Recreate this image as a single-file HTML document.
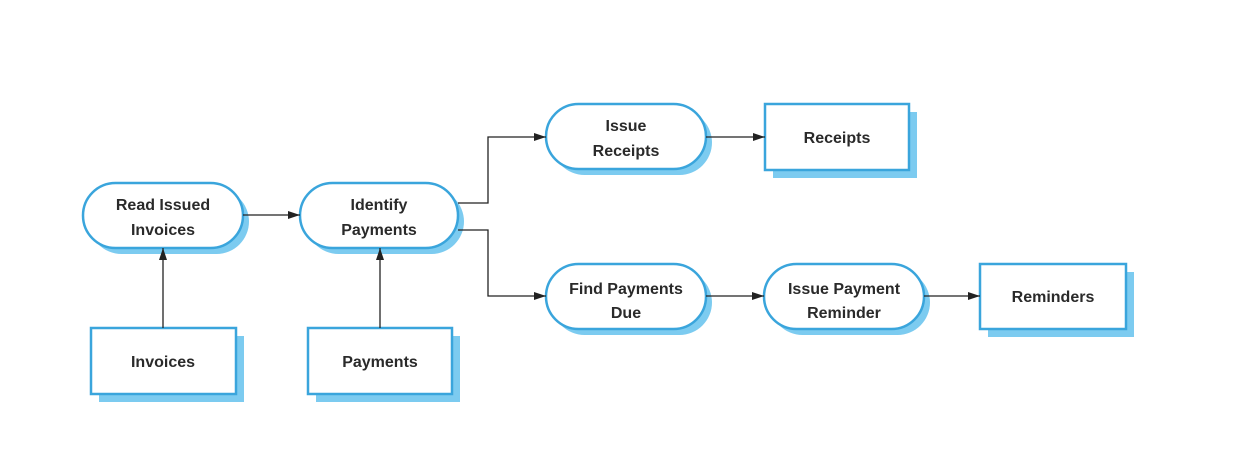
<!DOCTYPE html>
<html><head><meta charset="utf-8"><style>
body{margin:0;background:#fff;}
svg text{font-family:"Liberation Sans",sans-serif;font-size:16px;font-weight:bold;fill:#2a2a2a;text-anchor:middle;}
</style></head><body>
<svg width="1249" height="471" viewBox="0 0 1249 471" xmlns="http://www.w3.org/2000/svg">
<defs><marker id="a" markerWidth="12" markerHeight="8" refX="12" refY="4" orient="auto" markerUnits="userSpaceOnUse"><path d="M0,0 L12,4 L0,8 z" fill="#222"/></marker></defs>
<g fill="#7ccbf0">
<rect x="89" y="189" width="160" height="65" rx="32.5"/>
<rect x="306" y="189" width="158" height="65" rx="32.5"/>
<rect x="552" y="110" width="160" height="65" rx="32.5"/>
<rect x="552" y="270" width="160" height="65" rx="32.5"/>
<rect x="770" y="270" width="160" height="65" rx="32.5"/>
<rect x="99" y="336" width="145" height="66"/>
<rect x="316" y="336" width="144" height="66"/>
<rect x="773" y="112" width="144" height="66"/>
<rect x="988" y="272" width="146" height="65"/>
</g>
<g fill="#fff" stroke="#3aa5dc" stroke-width="2.5">
<rect x="83" y="183" width="160" height="65" rx="32.5"/>
<rect x="300" y="183" width="158" height="65" rx="32.5"/>
<rect x="546" y="104" width="160" height="65" rx="32.5"/>
<rect x="546" y="264" width="160" height="65" rx="32.5"/>
<rect x="764" y="264" width="160" height="65" rx="32.5"/>
<rect x="91" y="328" width="145" height="66"/>
<rect x="308" y="328" width="144" height="66"/>
<rect x="765" y="104" width="144" height="66"/>
<rect x="980" y="264" width="146" height="65"/>
</g>
<g stroke="#222" stroke-width="1.3" fill="none" marker-end="url(#a)">
<line x1="243" y1="215" x2="300" y2="215"/>
<polyline points="458,203 488,203 488,137 546,137"/>
<polyline points="458,230 488,230 488,296 546,296"/>
<line x1="706" y1="137" x2="765" y2="137"/>
<line x1="706" y1="296" x2="764" y2="296"/>
<line x1="924" y1="296" x2="980" y2="296"/>
<line x1="163" y1="328" x2="163" y2="248"/>
<line x1="380" y1="328" x2="380" y2="248"/>
</g>
<text x="163" y="210">Read Issued</text><text x="163" y="235">Invoices</text>
<text x="379" y="210">Identify</text><text x="379" y="235">Payments</text>
<text x="626" y="131">Issue</text><text x="626" y="156">Receipts</text>
<text x="626" y="294">Find Payments</text><text x="626" y="318">Due</text>
<text x="844" y="294">Issue Payment</text><text x="844" y="318">Reminder</text>
<text x="163" y="367">Invoices</text>
<text x="380" y="367">Payments</text>
<text x="837" y="143">Receipts</text>
<text x="1053" y="302">Reminders</text>
</svg>
</body></html>
